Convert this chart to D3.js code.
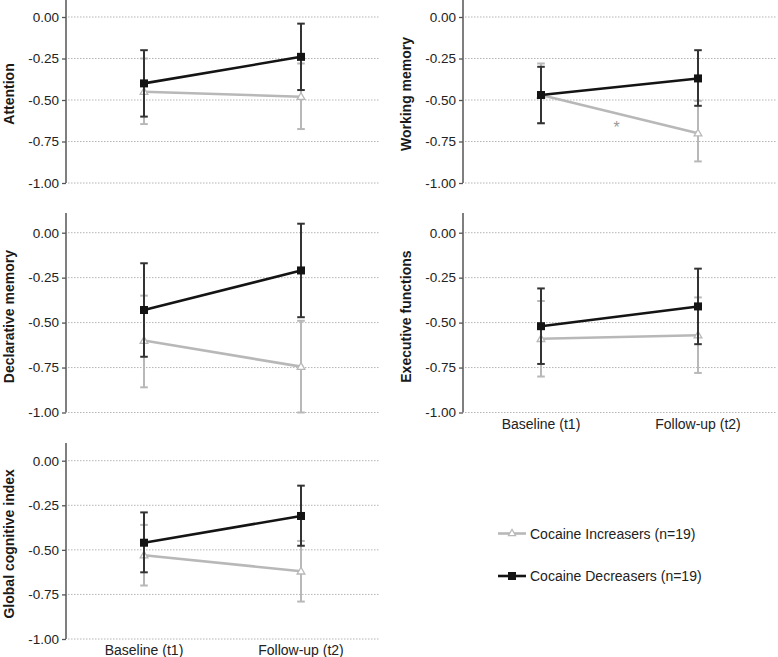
<!DOCTYPE html>
<html>
<head>
<meta charset="utf-8">
<script src="https://cdn.jsdelivr.net/npm/d3@7"></script>
<style>
  html, body { margin: 0; padding: 0; background: #fff; }
  svg { display: block; font-family: "Liberation Sans", Arial, Helvetica, sans-serif; }
</style>
</head>
<body>
<svg id="chart" width="778" height="657"></svg>
<script>
// ---- data ----
const categories = ["Baseline (t1)", "Follow-up (t2)"];
const panelNames = ["Attention", "Working memory", "Declarative memory", "Executive functions", "Global cognitive index"];
const yTickValues = [0, -0.25, -0.5, -0.75, -1];
const yTickLabels = ["0.00", "-0.25", "-0.50", "-0.75", "-1.00"];
const seriesNames = ["Cocaine Increasers (n=19)", "Cocaine Decreasers (n=19)"];

// Cocaine Increasers: mean, lower and upper error bound per panel [t1, t2]
const incMean = [[-0.45, -0.48], [-0.47, -0.70], [-0.60, -0.745], [-0.59, -0.57], [-0.53, -0.62]];
const incLow  = [[-0.645, -0.675], [-0.64, -0.87], [-0.86, -1.00], [-0.80, -0.78], [-0.70, -0.79]];
const incHigh = [[-0.25, -0.28], [-0.28, -0.505], [-0.35, -0.49], [-0.38, -0.36], [-0.36, -0.45]];

// Cocaine Decreasers
const decMean = [[-0.40, -0.24], [-0.47, -0.37], [-0.43, -0.21], [-0.52, -0.41], [-0.46, -0.31]];
const decLow  = [[-0.60, -0.44], [-0.64, -0.535], [-0.69, -0.47], [-0.73, -0.62], [-0.626, -0.477]];
const decHigh = [[-0.20, -0.04], [-0.30, -0.20], [-0.17, 0.05], [-0.31, -0.20], [-0.29, -0.14]];

const asteriskPanel = 1; // significance mark in Working memory

// ---- layout ----
const svg = d3.select("#chart");
const colAxisX = [66, 463];
const rows = [
  {y0: 17, y1: 183, top: 0},
  {y0: 232.7, y1: 412.5, top: 213},
  {y0: 460.7, y1: 639, top: 443}
];
const panelPos = [
  {col: 0, row: 0}, {col: 1, row: 0},
  {col: 0, row: 1}, {col: 1, row: 1},
  {col: 0, row: 2}
];
const showX = [false, false, false, true, true];

const incColor = "#b8b8b8";
const decColor = "#141414";
const decBarColor = "#333333";

panelNames.forEach((name, p) => {
  const pos = panelPos[p];
  const ax = colAxisX[pos.col];
  const r = rows[pos.row];
  const y = d3.scaleLinear().domain([0, -1]).range([r.y0, r.y1]);
  const x = d3.scalePoint().domain(categories).range([ax + 78, ax + 235]);
  const g = svg.append("g");

  // gridlines
  g.selectAll("line.grid").data(yTickValues).join("line")
    .attr("x1", ax + 2).attr("x2", ax + 314)
    .attr("y1", d => y(d)).attr("y2", d => y(d))
    .attr("stroke", "#b5b5b5").attr("stroke-width", 1)
    .attr("stroke-dasharray", "1.5,1.5");

  // y axis
  const yAxis = d3.axisLeft(y).tickValues(yTickValues)
    .tickFormat((d, i) => yTickLabels[i]).tickSize(4).tickPadding(3);
  const ag = g.append("g").attr("transform", `translate(${ax},0)`).call(yAxis);
  ag.select(".domain").remove();
  ag.append("line").attr("x1", 0).attr("x2", 0)
    .attr("y1", Math.max(r.top, 0)).attr("y2", y(-1))
    .attr("stroke", "#555").attr("stroke-width", 1.5);
  ag.selectAll(".tick line").attr("stroke", "#555").attr("stroke-width", 1.3);
  ag.selectAll(".tick text").attr("fill", "#222").style("font-size", "13.5px")
    .style("font-family", "'Liberation Sans', Arial, sans-serif");

  // y label
  const labelCy = (r.y0 + r.y1) / 2 - 6;
  g.append("text")
    .attr("transform", `translate(${ax - 52.5},${labelCy}) rotate(-90)`)
    .attr("text-anchor", "middle")
    .style("font-size", "14px").style("font-weight", "bold")
    .attr("fill", "#1a1a1a")
    .text(name);

  // x labels
  if (showX[p]) {
    g.selectAll("text.xl").data(categories).join("text")
      .attr("x", d => x(d)).attr("y", r.y1 + 16)
      .attr("text-anchor", "middle")
      .style("font-size", "14px").attr("fill", "#222")
      .text(d => d);
  }

  // series
  const series = [
    {mean: incMean[p], lo: incLow[p], hi: incHigh[p], color: incColor, bar: incColor, type: "tri"},
    {mean: decMean[p], lo: decLow[p], hi: decHigh[p], color: decColor, bar: decBarColor, type: "sq"}
  ];
  series.forEach(s => {
    const pts = categories.map((c, i) => ({c, m: s.mean[i], lo: s.lo[i], hi: s.hi[i]}));
    // error bars
    const eb = g.append("g");
    pts.forEach(d => {
      eb.append("line").attr("x1", x(d.c)).attr("x2", x(d.c))
        .attr("y1", y(d.lo)).attr("y2", y(d.hi))
        .attr("stroke", s.bar).attr("stroke-width", 2);
      [d.lo, d.hi].forEach(v => {
        eb.append("line").attr("x1", x(d.c) - 3.8).attr("x2", x(d.c) + 3.8)
          .attr("y1", y(v)).attr("y2", y(v))
          .attr("stroke", s.bar).attr("stroke-width", 2);
      });
    });
    // line
    g.append("path").datum(pts)
      .attr("d", d3.line().x(d => x(d.c)).y(d => y(d.m)))
      .attr("fill", "none").attr("stroke", s.color).attr("stroke-width", 2.6);
    // markers
    pts.forEach(d => {
      if (s.type === "sq") {
        g.append("rect").attr("x", x(d.c) - 4).attr("y", y(d.m) - 4)
          .attr("width", 8).attr("height", 8).attr("fill", decColor);
      } else {
        g.append("path")
          .attr("d", d3.symbol(d3.symbolTriangle, 26)())
          .attr("transform", `translate(${x(d.c)},${y(d.m) + 0.5})`)
          .attr("fill", "#fff").attr("stroke", incColor).attr("stroke-width", 1.3);
      }
    });
  });

  if (p === asteriskPanel) {
    const mx = (x(categories[0]) + x(categories[1])) / 2;
    g.append("text").attr("x", mx - 3).attr("y", y(-0.70))
      .attr("text-anchor", "middle").style("font-size", "16px")
      .attr("fill", "#999").text("*");
  }
});

// ---- legend ----
const legend = svg.append("g");
const legY = [533.5, 576];
seriesNames.forEach((nm, i) => {
  const gy = legY[i];
  const col = i === 0 ? incColor : decColor;
  legend.append("line").attr("x1", 498).attr("x2", 526).attr("y1", gy).attr("y2", gy)
    .attr("stroke", col).attr("stroke-width", 2.6);
  if (i === 0) {
    legend.append("path").attr("d", d3.symbol(d3.symbolTriangle, 22)())
      .attr("transform", `translate(512,${gy})`)
      .attr("fill", "#fff").attr("stroke", incColor).attr("stroke-width", 1.2);
  } else {
    legend.append("rect").attr("x", 508).attr("y", gy - 4).attr("width", 8).attr("height", 8)
      .attr("fill", decColor);
  }
  legend.append("text").attr("x", 530).attr("y", gy + 5)
    .style("font-size", "14px").attr("fill", "#222").text(nm);
});
</script>
</body>
</html>
